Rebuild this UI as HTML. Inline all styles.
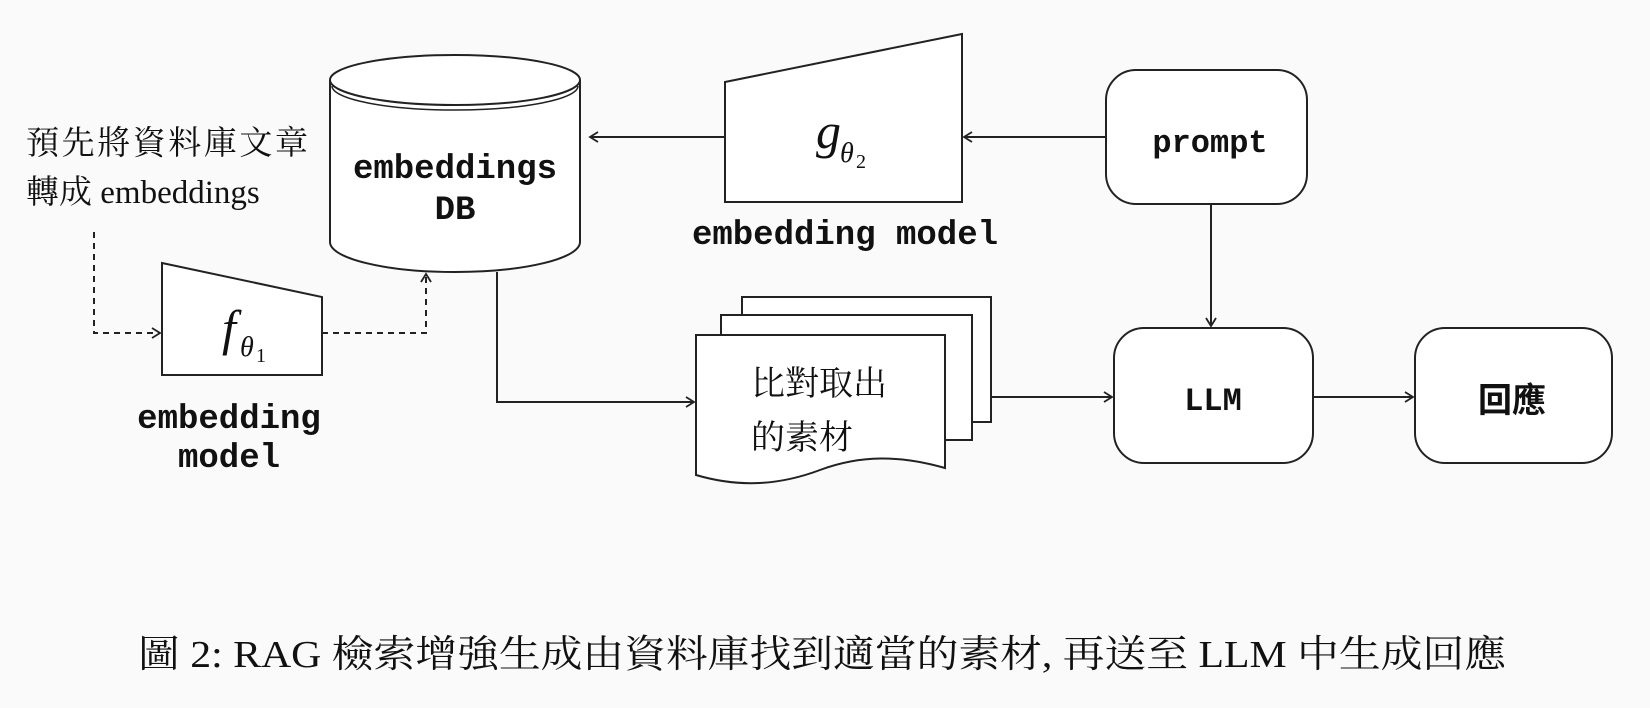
<!DOCTYPE html>
<html><head><meta charset="utf-8"><style>
html,body{margin:0;padding:0;background:#fafafa;}
svg{display:block}
.mono{font-family:"Liberation Mono","Courier New",monospace;font-weight:bold;}
.cjk{font-family:"Liberation Serif","Noto Serif CJK SC","Noto Sans CJK TC",serif;}
</style></head><body>
<svg width="1650" height="708" viewBox="0 0 1650 708" xmlns="http://www.w3.org/2000/svg">
<defs>
<marker id="a" markerWidth="12" markerHeight="12" refX="10" refY="6" orient="auto" markerUnits="userSpaceOnUse">
<path d="M2,1 L10,6 L2,11" fill="none" stroke="#222" stroke-width="1.8"/>
</marker>
</defs>
<rect width="1650" height="708" fill="#fafafa"/>
<g stroke="#222" stroke-width="2" fill="#fff">
<path d="M330,80 L330,242 A125,30 0 0 0 580,242 L580,80"/>
<ellipse cx="455" cy="80" rx="125" ry="25"/>
<path d="M332,86 A123,24 0 0 0 578,86" fill="none" stroke-width="1.5"/>
<path d="M162,263 L322,297 L322,375 L162,375 Z"/>
<path d="M725,82 L962,34 L962,202 L725,202 Z"/>
<rect x="1106" y="70" width="201" height="134" rx="30"/>
<rect x="1114" y="328" width="199" height="135" rx="30"/>
<rect x="1415" y="328" width="197" height="135" rx="30"/>
<rect x="742" y="297" width="249" height="125"/>
<rect x="721" y="315" width="251" height="125"/>
<path d="M696,335 L945,335 L945,468 C900,455 860,455 820,470 C780,485 740,488 696,475 Z"/>
</g>
<g stroke="#222" stroke-width="2" fill="none">
<path d="M94,232 L94,333 L160,333" stroke-dasharray="6,5" marker-end="url(#a)"/>
<path d="M322,333 L426,333 L426,274" stroke-dasharray="6,5" marker-end="url(#a)"/>
<path d="M497,272 L497,402 L694,402" marker-end="url(#a)"/>
<path d="M725,137 L590,137" marker-end="url(#a)"/>
<path d="M1106,137 L964,137" marker-end="url(#a)"/>
<path d="M1211,204 L1211,326" marker-end="url(#a)"/>
<path d="M991,397 L1112,397" marker-end="url(#a)"/>
<path d="M1313,397 L1413,397" marker-end="url(#a)"/>
</g>
<g fill="#111">
<text class="cjk" x="26" y="154" font-size="33" textLength="282">預先將資料庫文章</text>
<text class="cjk" x="26" y="203" font-size="33">轉成 embeddings</text>
<text class="mono" x="455" y="178" font-size="34" text-anchor="middle">embeddings</text>
<text class="mono" x="455" y="219" font-size="34" text-anchor="middle">DB</text>
<text class="mono" x="229" y="428" font-size="34" text-anchor="middle">embedding</text>
<text class="mono" x="229" y="467" font-size="34" text-anchor="middle">model</text>
<text class="mono" x="845" y="244" font-size="34" text-anchor="middle">embedding model</text>
<text class="mono" x="1210" y="152" font-size="32" text-anchor="middle">prompt</text>
<text class="mono" x="1213" y="410" font-size="32" text-anchor="middle">LLM</text>
<text x="1512" y="412" font-size="34" font-weight="bold" text-anchor="middle" font-family="'Noto Sans CJK TC',sans-serif">回應</text>
<text class="cjk" x="751" y="395" font-size="34">比對取出</text>
<text class="cjk" x="751" y="449" font-size="34">的素材</text>
<text font-family="'Liberation Serif',serif" font-style="italic" font-size="50" x="222" y="345">f</text>
<text font-family="'Liberation Serif',serif" font-style="italic" font-size="28" x="240" y="356">θ</text>
<text font-family="'Liberation Serif',serif" font-size="20" x="256" y="362">1</text>
<text font-family="'Liberation Serif',serif" font-style="italic" font-size="50" x="816" y="148">g</text>
<text font-family="'Liberation Serif',serif" font-style="italic" font-size="28" x="840" y="162">θ</text>
<text font-family="'Liberation Serif',serif" font-size="20" x="856" y="168">2</text>
<text class="cjk" x="138" y="667" font-size="38" textLength="1368" lengthAdjust="spacingAndGlyphs">圖 2: RAG 檢索增強生成由資料庫找到適當的素材, 再送至 LLM 中生成回應</text>
</g>
</svg>
</body></html>
